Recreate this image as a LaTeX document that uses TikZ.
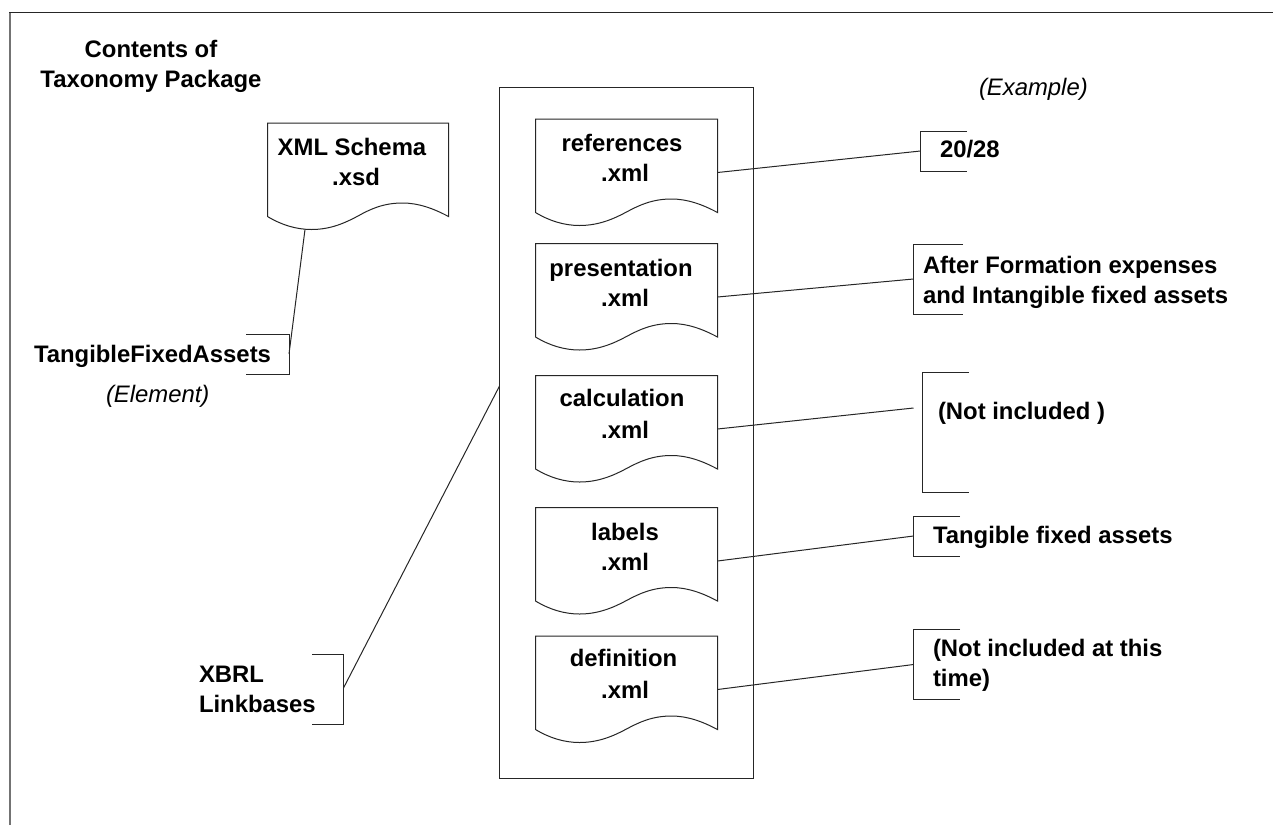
\documentclass[tikz,border=0pt]{standalone}
\usepackage{fontspec}
\setmainfont{Liberation Sans}
\tikzset{
  ln/.style={draw=black!85,line width=0.75pt},
  lab/.style={inner sep=0pt,outer sep=0pt,font=\fontsize{17.9}{22.5}\selectfont\bfseries,anchor=base west,align=left},
  doclab/.style={inner sep=0pt,outer sep=0pt,font=\fontsize{17.9}{22.5}\selectfont\bfseries,anchor=base,align=center},
  note/.style={inner sep=0pt,outer sep=0pt,font=\fontsize{17.9}{22.5}\selectfont\itshape,anchor=base west},
}
% #1 name, #2 left x, #3 right x, #4 top y
\newcommand{\docshape}[4]{%
  \coordinate (#1-e) at (#3,#4+53.5);
  \draw[ln,fill=white] (#2,#4) -- (#3,#4) -- (#3,#4+93.5)
    .. controls (#3-15,#4+85.5) and (#3-30,#4+80) .. (#3-46,#4+80)
    .. controls (#3-65,#4+80) and (#3-78,#4+86) .. ({(#2+#3)/2},#4+93)
    .. controls ({(#2+#3)/2-13},#4+100) and (#2+63,#4+106.5) .. (#2+44,#4+106.5)
    .. controls (#2+29,#4+106.5) and (#2+14,#4+102) .. (#2,#4+93.5) -- cycle;
}
\begin{document}
\begin{tikzpicture}[x=0.75pt,y=-0.75pt]
\useasboundingbox (0,0) rectangle (1273,825);
\draw[draw=black!55,line width=1.5pt] (10,825) -- (10,12.5);
\draw[draw=black!85,line width=0.9pt] (9,12.5) -- (1273,12.5);
\node[doclab] (title) at (151,87) {Contents of\\Taxonomy Package};
\docshape{xsd}{267.5}{448.5}{123}
\node[doclab] (xsdt) at (356,185) {XML Schema\hspace*{6pt}\\.xsd};
\coordinate (xsdb) at (305,229.5);
\draw[ln] (246,334) -- (289,334) -- (289,374) -- (246,374);
\node[lab] (tfa) at (34,362) {TangibleFixedAssets};
\coordinate (tfae) at (289,354);
\draw[ln] (xsdb) -- (tfae);
\node[note] (elem) at (106,402) {(Element)};
\draw[ln] (499.5,87) rectangle (753.5,778);
\coordinate (boxw) at (499.5,386);
\docshape{ref}{535.5}{717.5}{119}
\docshape{pre}{535.5}{717.5}{243.5}
\docshape{cal}{535.5}{717.5}{375.5}
\docshape{lbl}{535.5}{717.5}{507.5}
\docshape{def}{535.5}{717.5}{636}
\node[doclab] (reft) at (625,181) {references\hspace*{4.5pt}\\.xml};
\node[doclab] (pret) at (625,306) {presentation\hspace*{6pt}\\.xml};
\node[doclab] (calt) at (625,438) {calculation\hspace*{4.5pt}\\[1pt].xml};
\node[doclab] (lblt) at (625,570) {labels\\.xml};
\node[doclab] (deft) at (625,698) {definition\hspace*{2.25pt}\\[1pt].xml};
\draw[ln] (312,654.5) -- (343.5,654.5) -- (343.5,724.5) -- (312,724.5);
\node[lab] (xbrl) at (199,712) {XBRL\\Linkbases};
\coordinate (xbrle) at (343.5,688);
\draw[ln] (xbrle) -- (boxw);
\node[note] (ex) at (979,95) {(Example)};
\draw[ln] (967,131) -- (920.5,131) -- (920.5,171) -- (967,171);
\coordinate (a1) at (920.5,151);
\node[lab] (n1) at (940,157) {20/28};
\draw[ln] (ref-e) -- (a1);
\draw[ln] (963,244) -- (913.5,244) -- (913.5,314.5) -- (963,314.5);
\coordinate (a2) at (913.5,279);
\node[lab] (n2) at (923,303) {After Formation expenses\\and Intangible fixed assets};
\draw[ln] (pre-e) -- (a2);
\draw[ln] (969,372.5) -- (922,372.5) -- (922,492.5) -- (969,492.5);
\coordinate (a3) at (913.5,408);
\node[lab] (n3) at (938,419) {(Not included )};
\draw[ln] (cal-e) -- (a3);
\draw[ln] (960,516) -- (913.5,516) -- (913.5,556) -- (960,556);
\coordinate (a4) at (913.5,536);
\node[lab] (n4) at (933,543) {Tangible fixed assets};
\draw[ln] (lbl-e) -- (a4);
\draw[ln] (960,629.5) -- (913.5,629.5) -- (913.5,699.5) -- (960,699.5);
\coordinate (a5) at (913.5,664.5);
\node[lab] (n5) at (933,686) {(Not included at this\\time)};
\draw[ln] (def-e) -- (a5);
\end{tikzpicture}
\end{document}
